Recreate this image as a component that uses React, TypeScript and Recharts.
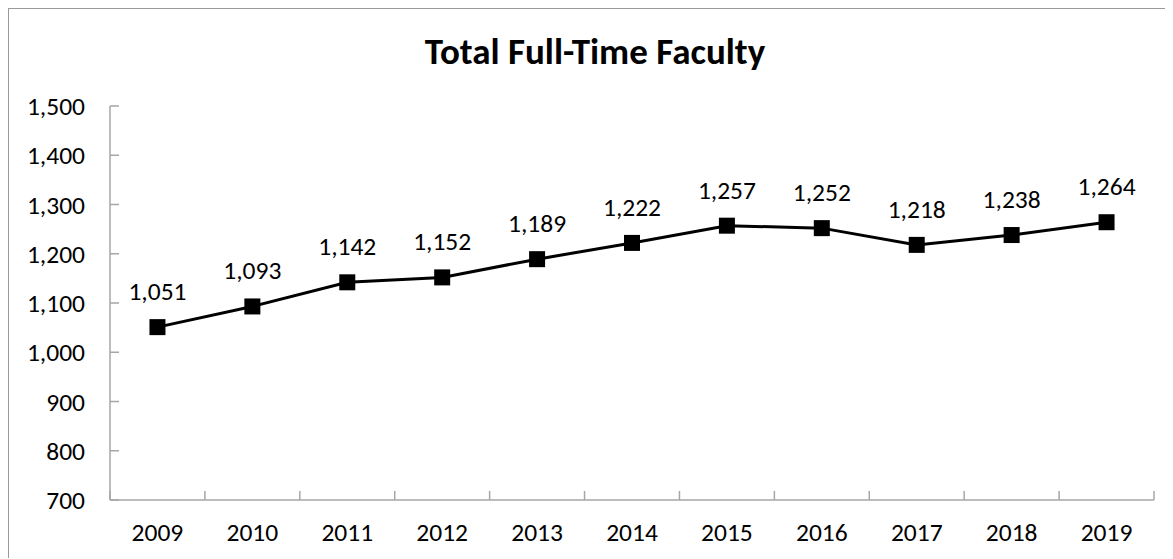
import * as React from "react";
import { LineChart, Line, XAxis, YAxis, LabelList } from "recharts";

const years = ["2009", "2010", "2011", "2012", "2013", "2014", "2015", "2016", "2017", "2018", "2019"];
const faculty = [1051, 1093, 1142, 1152, 1189, 1222, 1257, 1252, 1218, 1238, 1264];
const yTicks = [700, 800, 900, 1000, 1100, 1200, 1300, 1400, 1500];

const data = years.map((year, i) => ({ idx: i, year, faculty: faculty[i] }));
// category centres get labels, the half steps between them get Excel-style tick marks
const xTicks = years.flatMap((_, i) => (i === 0 ? [-0.5, 0, 0.5] : [i, i + 0.5]));

const FONT = "Calibri, Carlito, Lato, sans-serif";
const AXIS = "#a6a6a6";
const TEXT_SIZE = 25.5;

function YearTick(props: any) {
  const { x, y, payload } = props;
  const v = payload.value as number;
  if (Number.isInteger(v)) {
    return (
      <text x={x} y={y + 41} textAnchor="middle" fontSize={TEXT_SIZE} fontFamily={FONT} fill="#000">
        {years[v]}
      </text>
    );
  }
  return <line x1={x} x2={x} y1={y} y2={y - 9} stroke={AXIS} strokeWidth={1.5} />;
}

function SquareDot(props: any) {
  const { cx, cy } = props;
  if (cx == null || cy == null) return null;
  return <rect x={cx - 8} y={cy - 8} width={16} height={16} fill="#000" />;
}

export default function App() {
  return (
    <div style={{ width: 1165, height: 551, overflow: "hidden", marginLeft: -1, marginTop: -1 }}>
      <div
        style={{
          position: "relative",
          width: 1200,
          height: 580,
          border: "2px solid #9a9a9a",
          background: "#fff",
        }}
      >
        <div
          style={{
            position: "absolute",
            left: 0,
            top: 22,
            width: 1172,
            textAlign: "center",
            fontFamily: FONT,
            fontWeight: 700,
            fontSize: 37,
            lineHeight: "42px",
          }}
        >
          Total Full-Time Faculty
        </div>
        <LineChart width={1165} height={550} data={data} margin={{ top: 97, right: 20, left: 0, bottom: 9 }}>
          <XAxis
            dataKey="idx"
            type="number"
            domain={[-0.5, 10.5]}
            ticks={xTicks}
            interval={0}
            tickLine={false}
            tickSize={0}
            tickMargin={0}
            height={50}
            axisLine={{ stroke: AXIS, strokeWidth: 1.5 }}
            tick={<YearTick />}
          />
          <YAxis
            width={101}
            domain={[700, 1500]}
            ticks={yTicks}
            interval={0}
            tickSize={-9}
            tickMargin={34}
            axisLine={{ stroke: AXIS, strokeWidth: 1.5 }}
            tickLine={{ stroke: AXIS, strokeWidth: 1.5 }}
            tick={{ fill: "#000", fontSize: TEXT_SIZE, fontFamily: FONT }}
            tickFormatter={(v) => v.toLocaleString("en-US")}
          />
          <Line
            dataKey="faculty"
            stroke="#000"
            strokeWidth={3}
            dot={<SquareDot />}
            activeDot={false}
            isAnimationActive={false}
          >
            <LabelList
              dataKey="faculty"
              position="top"
              offset={27}
              fill="#000"
              fontSize={TEXT_SIZE}
              fontFamily={FONT}
              formatter={(v: any) => Number(v).toLocaleString("en-US")}
            />
          </Line>
        </LineChart>
      </div>
    </div>
  );
}
